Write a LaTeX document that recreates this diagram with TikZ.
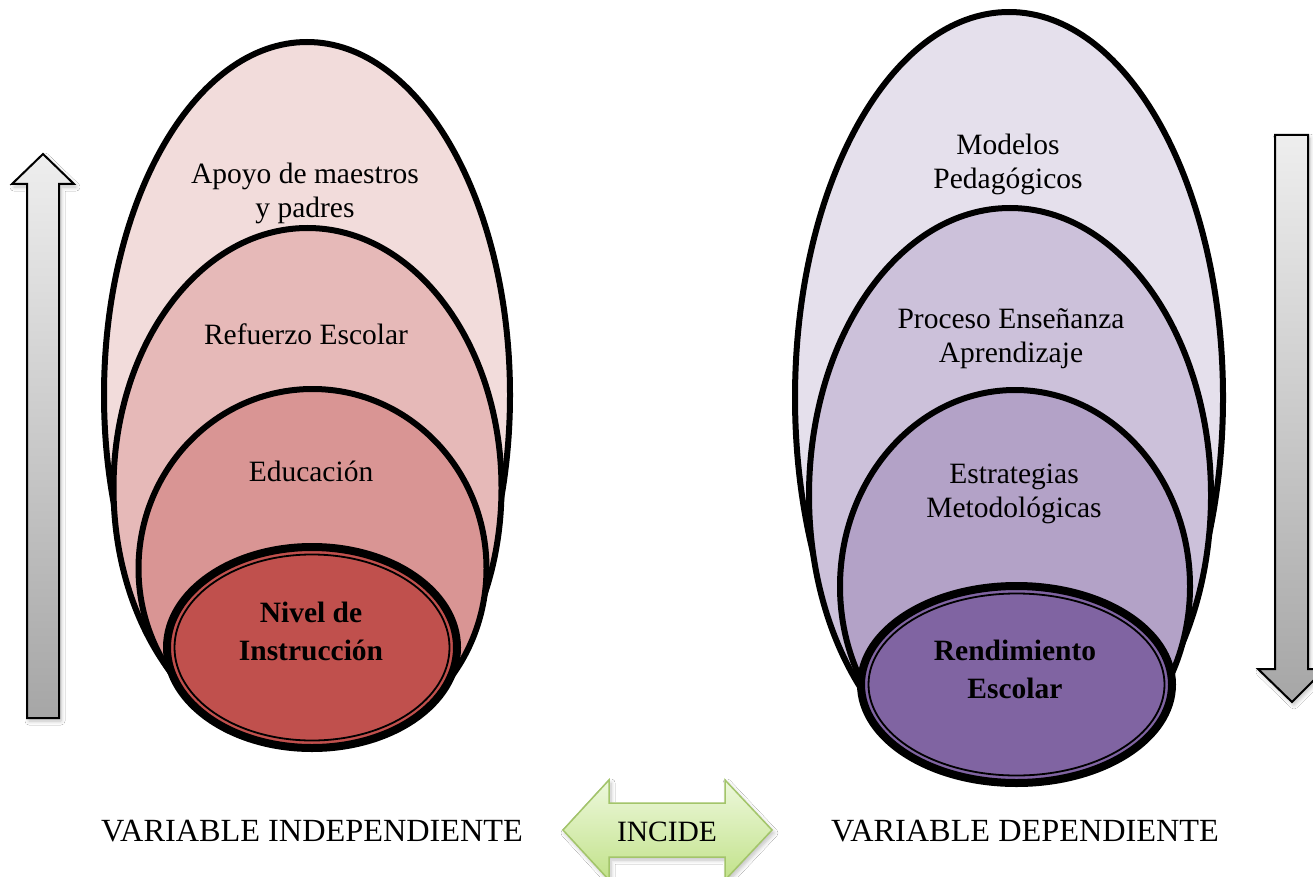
\documentclass[tikz,border=0pt]{standalone}
\usepackage{fontspec}
\setmainfont{Liberation Serif}
\usetikzlibrary{shadows.blur}
\definecolor{cA}{HTML}{F2DCDB}
\definecolor{cB}{HTML}{E6B9B8}
\definecolor{cC}{HTML}{D99594}
\definecolor{cD}{HTML}{C0504D}
\definecolor{pA}{HTML}{E5E0EC}
\definecolor{pB}{HTML}{CCC1DA}
\definecolor{pC}{HTML}{B3A2C7}
\definecolor{pD}{HTML}{8064A2}
\definecolor{gTop}{HTML}{EEEEEE}
\definecolor{gBot}{HTML}{A6A6A6}
\definecolor{vTop}{HTML}{EDF8DC}
\definecolor{vBot}{HTML}{C2E28A}
\definecolor{vLine}{HTML}{A3C56A}
\begin{document}
\begin{tikzpicture}[x=1pt,y=-1pt,
  ring/.style={draw=black, line width=6pt},
  corering/.style={draw=black, line width=8pt},
  innerring/.style={draw=black, line width=1.8pt},
  lbl/.style={font=\fontsize{29.5}{34}\selectfont, align=center, inner sep=0pt},
  biglbl/.style={font=\fontsize{32.3}{36}\selectfont, align=center, inner sep=0pt},
  blbl/.style={font=\fontsize{29.5}{38}\selectfont\bfseries, align=center, inner sep=0pt},
  softshadow/.style={blur shadow={shadow xshift=2pt, shadow yshift=-3pt, shadow blur steps=6, shadow blur radius=4pt, shadow opacity=25}},
  grayarrow/.style={draw=black, line width=2pt, line join=miter, top color=gTop, bottom color=gBot, softshadow},
  greenarrow/.style={draw=vLine, line width=1.5pt, line join=miter, top color=vTop, bottom color=vBot, softshadow},
]
\clip (0,0) rectangle (1313,877);
\fill[white] (0,0) rectangle (1313,877);

% left arrow (up)
\draw[grayarrow] (43,154) -- (74,184) -- (59,184) -- (59,718) -- (27,718) -- (27,184) -- (12,184) -- cycle;
% right arrow (down)
\draw[grayarrow] (1275,135) -- (1308,135) -- (1308,669) -- (1325,669) -- (1292,702) -- (1258,669) -- (1275,669) -- cycle;

% left nested ellipses
\draw[ring, fill=cA] (307,395) ellipse [x radius=203, y radius=353];
\draw[ring, fill=cB] (307.5,488) ellipse [x radius=194, y radius=260];
\draw[ring, fill=cC] (312.5,568.5) ellipse [x radius=174, y radius=179.5];
\draw[corering, fill=cD] (312,647.5) ellipse [x radius=145, y radius=100.5];
\draw[innerring] (312,647.5) ellipse [x radius=137.5, y radius=93];

% right nested ellipses
\draw[ring, fill=pA] (1009,397.5) ellipse [x radius=214, y radius=385.5];
\draw[ring, fill=pB] (1010,495.5) ellipse [x radius=201, y radius=287.5];
\draw[ring, fill=pC] (1015,586.5) ellipse [x radius=175, y radius=196.5];
\draw[corering, fill=pD] (1016.5,684.5) ellipse [x radius=155.5, y radius=98.5];
\draw[innerring] (1016.5,684.5) ellipse [x radius=148, y radius=91];

% texts left
\node[lbl] (apoyo) at (305,193) {Apoyo de maestros\\y padres};
\node[lbl] (refuerzo) at (306,334) {Refuerzo Escolar};
\node[lbl] (educ) at (311,471) {Educación};
\node[blbl] (nivel) at (311,631) {Nivel de\\Instrucción};

% texts right
\node[lbl] (modelos) at (1008,164) {Modelos\\Pedagógicos};
\node[lbl] (proceso) at (1011,339) {Proceso Enseñanza\\Aprendizaje};
\node[lbl] (estrat) at (1014,494) {Estrategias\\Metodológicas};
\node[blbl] (rend) at (1015,669) {Rendimiento\\Escolar};

% incide arrow
\draw[greenarrow] (563,830) -- (609,780) -- (609,803) -- (725,803) -- (725,780) -- (772,830) -- (725,880) -- (725,857) -- (609,857) -- (609,880) -- cycle;
\node[lbl] (incide) at (667,832) {INCIDE};

% bottom labels
\node[biglbl] (vi) at (312,831) {VARIABLE INDEPENDIENTE};
\node[biglbl] (vd) at (1025,831) {VARIABLE DEPENDIENTE};
\end{tikzpicture}
\end{document}
